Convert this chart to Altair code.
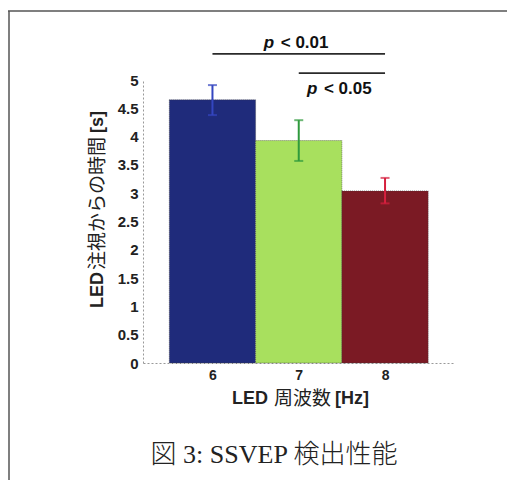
import altair as alt
import pandas as pd

# ---- data ----
freqs = [6, 7, 8]
means = [4.65, 3.93, 3.04]
err_hi = [4.91, 4.29, 3.27]
err_lo = [4.38, 3.57, 2.82]
bar_colors = ["#1f2b7b", "#a8e05e", "#7b1a24"]
err_colors = ["#3446c0", "#2f9a3c", "#d6203e"]

sig_x1 = [6, 7]
sig_x2 = [8, 8]
sig_y = [5.46, 5.12]
sig_label = ["< 0.01", "< 0.05"]
sig_label_x = [7, 7.5]
sig_label_y = [5.565, 4.753]

y_ticks = [0, 0.5, 1, 1.5, 2, 2.5, 3, 3.5, 4, 4.5, 5]
x_title_parts = ["LED", "周波数", "[Hz]"]
y_title_parts = ["LED", "注視からの時間", "[s]"]
caption = "図 3: SSVEP 検出性能"

bars = pd.DataFrame({
    "f": freqs, "mean": means, "hi": err_hi, "lo": err_lo,
    "color": bar_colors, "ecolor": err_colors,
})
bars["x0"] = bars["f"] - 0.5
bars["x1"] = bars["f"] + 0.5

sig = pd.DataFrame({"x1": sig_x1, "x2": sig_x2, "y": sig_y,
                    "label": sig_label, "lx": sig_label_x, "ly": sig_label_y})

W, H = 311.5, 283
xscale = alt.Scale(domain=[5.195, 8.805], nice=False, zero=False)
yscale = alt.Scale(domain=[0, 5], nice=False)
FONT = "Liberation Sans"
JFONT = "Noto Sans CJK JP"

common_ax = dict(title=None, ticks=False, labelOverlap=False, labelFont=FONT,
                 labelFontWeight="bold", labelColor="#222",
                 domainColor="#999", domainDash=[2, 2], domainWidth=1, grid=False)
XAX = alt.Axis(values=freqs, labelPadding=5, format="d", labelFontSize=14, **common_ax)
YAX = alt.Axis(values=y_ticks, labelPadding=5, format="~g", labelFontSize=15, **common_ax)

def X(field):
    return alt.X(field, scale=xscale, axis=XAX)

def Y(field):
    return alt.Y(field, scale=yscale, axis=YAX)

base = alt.Chart(bars)

rect = base.mark_rect(stroke="#3a3a3a", strokeWidth=0.6, strokeDash=[1, 1]).encode(
    x=X("x0:Q"), x2="x1:Q", y=Y("mean:Q"), y2=alt.datum(0),
    color=alt.Color("color:N", scale=None),
)

err = base.mark_rule(strokeWidth=2).encode(
    x=X("f:Q"), y=Y("lo:Q"), y2="hi:Q", color=alt.Color("ecolor:N", scale=None))
cap_hi = base.mark_tick(orient="horizontal", size=9, thickness=2).encode(
    x=X("f:Q"), y=Y("hi:Q"), color=alt.Color("ecolor:N", scale=None))
cap_lo = base.mark_tick(orient="horizontal", size=9, thickness=2).encode(
    x=X("f:Q"), y=Y("lo:Q"), color=alt.Color("ecolor:N", scale=None))

sbase = alt.Chart(sig)
slines = sbase.mark_rule(color="#2a2a2a", strokeWidth=1.8).encode(
    x=X("x1:Q"), x2="x2:Q", y=Y("y:Q"))
sp = sbase.mark_text(text="p", font=FONT, fontWeight="bold", fontStyle="italic",
                     fontSize=17, align="left", baseline="alphabetic", dx=-35,
                     color="#111").encode(x=X("lx:Q"), y=Y("ly:Q"))
st = sbase.mark_text(font=FONT, fontWeight="bold", fontSize=17, align="left",
                     baseline="alphabetic", dx=-18, color="#111").encode(
    x=X("lx:Q"), y=Y("ly:Q"), text="label:N")

# axis titles with mixed weights
one = pd.DataFrame({"t": [0]})
def txt(s, x, y, size, weight, font, angle=0, baseline="alphabetic"):
    kw = dict(text=s, font=font, fontSize=size, fontWeight=weight, align="left",
              baseline=baseline, color="#222")
    if angle:
        kw["angle"] = angle
    return alt.Chart(one).mark_text(**kw).encode(x=alt.value(x), y=alt.value(y))

xt = [
    txt(x_title_parts[0], 89, 324, 18, "bold", FONT),
    txt(x_title_parts[1], 131, 325, 19, "normal", JFONT),
    txt(x_title_parts[2], 192, 324, 18, "bold", FONT),
]
yt = [
    txt(y_title_parts[0], -45, 228, 18, "bold", FONT, 270, "middle"),
    txt(y_title_parts[1], -45, 190, 19, "normal", JFONT, 270, "middle"),
    txt(y_title_parts[2], -45, 53, 18, "bold", FONT, 270, "middle"),
]
cap = alt.Chart(one).mark_text(text=caption, font="Liberation Serif, Noto Sans CJK JP",
                               fontSize=26, fontWeight=300, align="center",
                               baseline="alphabetic", color="#222").encode(
    x=alt.value(131), y=alt.value(383))

border_top = alt.Chart(one).mark_rule(color="#555", strokeWidth=1.5).encode(
    x=alt.value(-135), x2=alt.value(380), y=alt.value(-69))
border_left = alt.Chart(one).mark_rule(color="#555", strokeWidth=1.5).encode(
    x=alt.value(-134), y=alt.value(-69), y2=alt.value(400))

chart = alt.layer(rect, err, cap_hi, cap_lo, slines, sp, st, *xt, *yt, cap,
                  border_top, border_left).properties(
    width=W, height=H,
    autosize=alt.AutoSizeParams(type="none"),
    padding={"left": 135, "top": 72, "right": 52, "bottom": 118},
    background="white",
).configure_view(stroke=None)

chart.save("out.html", embed_options={"renderer": "svg", "actions": False})
